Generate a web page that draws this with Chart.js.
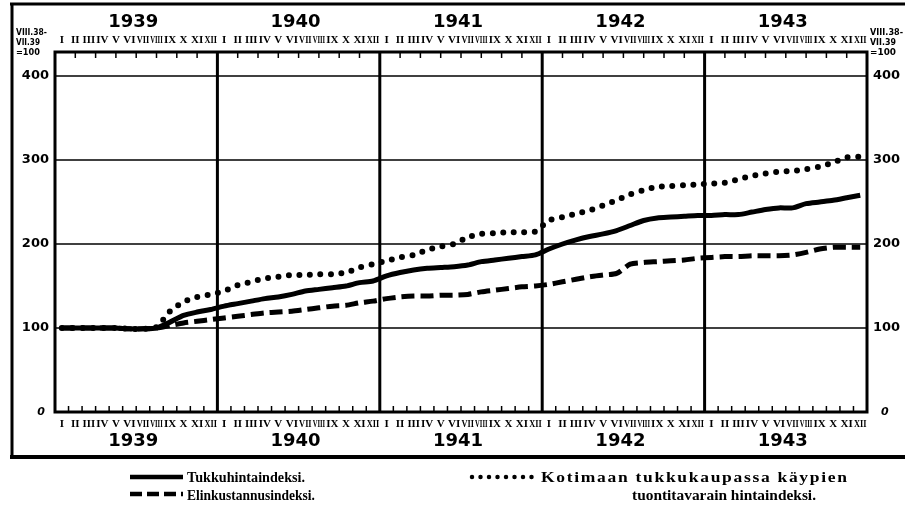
<!DOCTYPE html>
<html>
<head>
<meta charset="utf-8">
<script src="https://cdn.jsdelivr.net/npm/chart.js@4.4.1/dist/chart.umd.min.js"></script>
<style>
    body { margin: 0; background: #fff; }
    canvas { display: block; }
</style>
</head>
<body>
<canvas id="chart" width="905" height="510"></canvas>
<script>
// monthly values, Jan 1939 .. Dec 1943 (VIII.38-VII.39 = 100)
const years  = ["1939", "1940", "1941", "1942", "1943"];
const months = ["I", "II", "III", "IV", "V", "VI", "VII", "VIII", "IX", "X", "XI", "XII"];
const yTicks = [100, 200, 300, 400];

const tukkuhinta = [
    100, 100, 100, 100, 100, 99, 99, 100, 107, 115, 119, 122,
    126, 129, 132, 135, 137, 140, 144, 146, 148, 150, 154, 156,
    162, 166, 169, 171, 172, 173, 175, 179, 181, 183, 185, 187,
    194, 200, 205, 209, 212, 216, 222, 228, 231, 232, 233, 234,
    234, 235, 235, 238, 241, 243, 243, 248, 250, 252, 255, 258
];
const elinkustannus = [
    100, 100, 100, 100, 100, 99, 99, 100, 103, 106, 108, 110,
    112, 114, 116, 118, 119, 120, 122, 124, 126, 127, 130, 132,
    135, 137, 138, 138, 139, 139, 140, 143, 145, 147, 149, 150,
    152, 155, 158, 161, 163, 165, 176, 178, 179, 180, 181, 183,
    184, 185, 185, 186, 186, 186, 187, 190, 194, 196, 196, 196
];
const tuontitavarat = [
    100, 100, 100, 100, 100, 99, 99, 101, 120, 131, 137, 140,
    144, 151, 155, 159, 161, 163, 163, 164, 164, 166, 172, 176,
    180, 184, 187, 193, 197, 200, 208, 212, 213, 214, 214, 215,
    228, 232, 236, 240, 246, 252, 259, 264, 268, 269, 270, 271,
    272, 273, 277, 281, 284, 286, 287, 289, 292, 297, 303, 304
];

const toPoints = (arr) => arr.map((v, i) => ({x: i + 0.5, y: v}));

const line = (ctx, x1, y1, x2, y2, w) => {
    ctx.lineWidth = w;
    ctx.beginPath();
    ctx.moveTo(x1, y1);
    ctx.lineTo(x2, y2);
    ctx.stroke();
};

// draw text squeezed to width, or widened to fill it when stretch is set
// (glyphs widened up to 1.25x, the rest as letter spacing)
const fitText = (ctx, text, x, y, width, stretch) => {
    const w = ctx.measureText(text).width;
    ctx.save();
    ctx.translate(x, y);
    if (width && w > width) {
        ctx.scale(width / w, 1);
    } else if (stretch && w < width) {
        const k = Math.min(width / w, 1.25);
        ctx.scale(k, 1);
        if (text.length > 1) {
            ctx.letterSpacing = ((width / k - w) / (text.length - 1)) + "px";
        }
    }
    ctx.fillText(text, 0, 0);
    ctx.restore();
};

const framePlugin = {
    id: "frame",
    beforeDatasetsDraw: (chart) => {
        const {ctx, chartArea: a, scales: {x, y}} = chart;
        ctx.save();
        ctx.strokeStyle = "#000";
        yTicks.forEach(v => line(ctx, a.left, y.getPixelForValue(v), a.right, y.getPixelForValue(v), 1.5));
        for (let i = 1; i < years.length; i++) {
            line(ctx, x.getPixelForValue(i * 12), a.top, x.getPixelForValue(i * 12), a.bottom, 3);
        }
        ctx.lineWidth = 3;
        ctx.strokeRect(a.left, a.top, a.right - a.left, a.bottom - a.top);
        ctx.restore();
    },
    afterDraw: (chart) => {
        const {ctx, chartArea: a, scales: {x, y}} = chart;
        ctx.save();
        ctx.strokeStyle = "#000";
        ctx.fillStyle = "#000";

        // tick marks
        for (let m = 1; m < 60; m++) {
            if (m % 12 === 0) continue;
            const px = x.getPixelForValue(m);
            line(ctx, px, a.bottom, px, a.bottom - 6, 1.5);
        }
        for (let k = 1; k < 40; k++) {
            if (k % 8 === 0) continue;
            const px = x.getPixelForValue(k * 1.5);
            line(ctx, px, a.top, px, a.top + 6, 1.5);
        }

        // month and year labels
        ctx.textAlign = "center";
        ctx.textBaseline = "middle";
        ctx.font = "bold 11px 'Liberation Serif'";
        for (let m = 0; m < 60; m++) {
            const px = x.getPixelForValue(m + 0.5);
            fitText(ctx, months[m % 12], px, 40, 12.5);
            fitText(ctx, months[m % 12], px, 424, 12.5);
        }
        ctx.font = "bold 18px 'DejaVu Sans'";
        years.forEach((yr, i) => {
            const px = x.getPixelForValue(i * 12 + 6);
            fitText(ctx, yr, px - 3, 22);
            fitText(ctx, yr, px - 3, 441);
        });

        // y labels
        ctx.font = "bold 13px 'DejaVu Sans'";
        yTicks.forEach(v => {
            const py = y.getPixelForValue(v);
            ctx.textAlign = "right";
            ctx.fillText(String(v), 49, py);
            ctx.textAlign = "left";
            ctx.fillText(String(v), 873, py);
        });
        ctx.font = "italic bold 11px 'DejaVu Sans'";
        ctx.textAlign = "right";
        ctx.fillText("0", 45, a.bottom);
        ctx.textAlign = "left";
        ctx.fillText("0", 881, a.bottom);

        // base label
        ctx.font = "bold 9px 'DejaVu Sans'";
        ctx.textAlign = "left";
        [["VIII.38-", 33, 31], ["VII.39", 43, 24], ["=100", 53, 24]].forEach(([t, py, w]) => {
            fitText(ctx, t, 16, py, w);
            fitText(ctx, t, 870, py, w + 2);
        });

        // outer frame
        line(ctx, 10, 4, 905, 4, 3);
        line(ctx, 12, 3, 12, 458, 3);
        line(ctx, 10, 457, 905, 457, 4);

        // legend
        ctx.lineCap = "butt";
        line(ctx, 130, 477, 183, 477, 4.5);
        ctx.setLineDash([12, 5]);
        line(ctx, 130, 494, 183, 494, 4.5);
        ctx.setLineDash([0, 8.5]);
        ctx.lineCap = "round";
        line(ctx, 472, 477, 533, 477, 4.5);
        ctx.setLineDash([]);
        ctx.font = "bold 14px 'Liberation Serif'";
        ctx.textAlign = "left";
        fitText(ctx, "Tukkuhintaindeksi.", 187, 478, 118, true);
        fitText(ctx, "Elinkustannusindeksi.", 187, 496, 128, true);
        fitText(ctx, "Kotimaan tukkukaupassa käypien", 541, 478, 306, true);
        fitText(ctx, "tuontitavarain hintaindeksi.", 632, 496, 184, true);
        ctx.restore();
    }
};

new Chart(document.getElementById("chart"), {
    type   : "line",
    data   : {
        datasets: [{
            label      : "Tukkuhintaindeksi.",
            data       : toPoints(tukkuhinta),
            borderWidth: 5
        }, {
            label      : "Elinkustannusindeksi.",
            data       : toPoints(elinkustannus),
            borderWidth: 5,
            borderDash : [13, 6]
        }, {
            label         : "Kotimaan tukkukaupassa käypien tuontitavarain hintaindeksi.",
            data          : toPoints(tuontitavarat),
            borderWidth   : 6,
            borderDash    : [0, 10.5],
            borderCapStyle: "round"
        }]
    },
    options: {
        responsive      : false,
        animation       : false,
        devicePixelRatio: 1,
        layout          : {padding: {left: 55, right: 38, top: 52, bottom: 98}},
        plugins         : {legend: {display: false}, tooltip: {enabled: false}},
        elements        : {
            point: {radius: 0},
            line : {borderColor: "#000", tension: 0.25, fill: false}
        },
        scales          : {
            x: {type: "linear", min: 0, max: 60, display: false},
            y: {min: 0, max: 360 / 0.84, display: false}
        }
    },
    plugins: [framePlugin]
});
</script>
</body>
</html>
